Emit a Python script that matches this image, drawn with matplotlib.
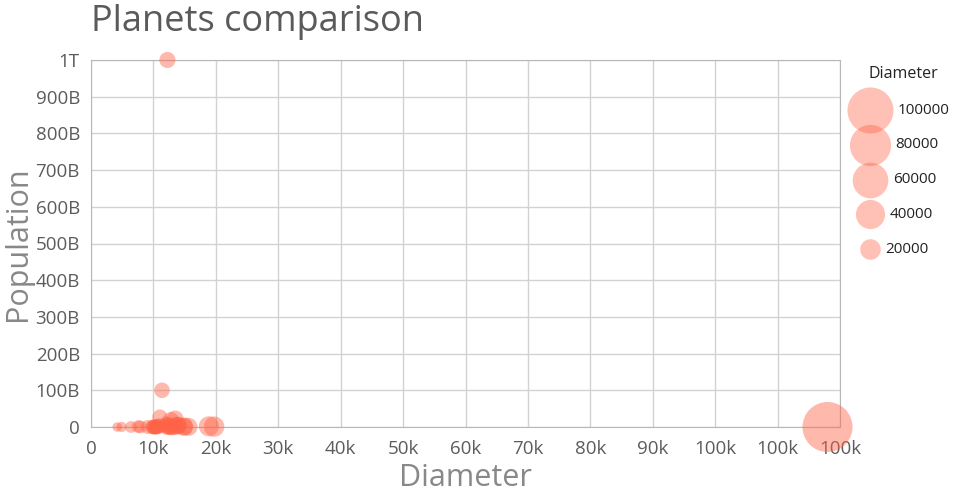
import matplotlib
matplotlib.use("Agg")
import matplotlib.pyplot as plt
from matplotlib.ticker import FixedLocator

plt.rcParams['font.family'] = ['Open Sans', 'DejaVu Sans']

# planets with known diameter and population
planets = ["Tatooine", "Alderaan", "Yavin IV", "Bespin", "Endor", "Naboo", "Coruscant",
           "Kamino", "Geonosis", "Utapau", "Mustafar", "Kashyyyk", "Polis Massa",
           "Mygeeto", "Felucia", "Cato Neimoidia", "Saleucami", "Eriadu", "Corellia",
           "Rodia", "Nal Hutta", "Dantooine", "Bestine IV", "Ord Mantell", "Trandosha",
           "Socorro", "Mon Cala", "Chandrila", "Sullust", "Toydaria", "Malastare",
           "Dathomir", "Ryloth", "Vulpter", "Tund", "Haruun Kal", "Glee Anselm",
           "Muunilinst", "Kalee"]
diameter = [10465, 12500, 10200, 118000, 4900, 12120, 12240,
            19720, 11370, 12900, 4200, 12765, 0,
            10088, 9100, 0, 14920, 13490, 11000,
            7549, 12150, 9830, 6400, 14050, 0,
            0, 11030, 13500, 12780, 7900, 18880,
            10480, 10600, 14900, 12190, 10120, 15600,
            13800, 13850]
population = [2e5, 2e9, 1000, 6e6, 3e7, 4.5e9, 1e12,
              1e9, 1e11, 9.5e7, 20000, 4.5e7, 1e6,
              1.9e7, 8.5e6, 1e7, 1.4e9, 2.2e10, 3e9,
              1.3e9, 7e9, 1000, 6.2e7, 4e9, 4.2e7,
              3e8, 2.7e10, 1.2e9, 1.85e10, 1.1e7, 2e9,
              5200, 1.5e9, 4.21e8, 0, 705300, 5e8,
              5e9, 4e9]

x_ticks = list(range(0, 130000, 10000))
x_labels = ["0", "10k", "20k", "30k", "40k", "50k", "60k", "70k", "80k", "90k",
            "100k", "100k", "100k"]
y_ticks = [i * 1e11 for i in range(11)]
y_labels = ["0", "100B", "200B", "300B", "400B", "500B", "600B", "700B", "800B",
            "900B", "1T"]
legend_sizes = [100000, 80000, 60000, 40000, 20000]

color = "#ff6347"
k = 0.011  # marker area per unit diameter

fig = plt.figure(figsize=(9.6, 5), dpi=100)
ax = fig.add_axes([0.0948, 0.146, 0.7802, 0.734])

ax.scatter(diameter, population, s=[d * k for d in diameter], color=color,
           alpha=0.45, linewidths=0, clip_on=False, zorder=3)

ax.set_xlim(0, 120000)
ax.set_ylim(0, 1e12)
ax.xaxis.set_major_locator(FixedLocator(x_ticks))
ax.set_xticklabels(x_labels)
ax.yaxis.set_major_locator(FixedLocator(y_ticks))
ax.set_yticklabels(y_labels)
ax.grid(True, color="#d2d2d2", linewidth=1)
ax.set_axisbelow(True)
for sp in ax.spines.values():
    sp.set_color("#b8b8b8")
ax.tick_params(length=0, labelsize=13.5, colors="#5c5c5c")
ax.tick_params(axis="x", pad=9)
ax.tick_params(axis="y", pad=8)

ax.set_xlabel("Diameter", fontsize=22, color="#888888", labelpad=4)
ax.set_ylabel("Population", fontsize=22, color="#888888", labelpad=2)
fig.text(0.095, 0.938, "Planets comparison", fontsize=26, color="#5a5a5a",
         ha="left", va="baseline")

# size legend, drawn in a small axes whose units are figure pixels
lax = fig.add_axes([840 / 960, 230 / 500, 120 / 960, 210 / 500])
lax.set_xlim(840, 960)
lax.set_ylim(270, 60)
lax.axis("off")
lax.text(903, 74, "Diameter", fontsize=11.5, color="#222222", ha="center", va="center")
for i, v in enumerate(legend_sizes):
    yy = 110 + 34.8 * i
    s = v * k
    r_px = (s ** 0.5) / 2 / 0.72
    lax.scatter([870], [yy], s=s, color=color, alpha=0.4, linewidths=0, clip_on=False)
    lax.text(870 + r_px + 5, yy, str(v), fontsize=11, color="#222222",
             ha="left", va="center")

fig.savefig("out.png", dpi=100)
